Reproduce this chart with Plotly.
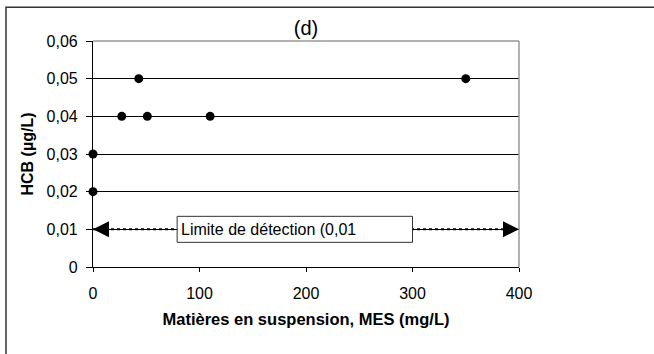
import plotly.graph_objects as go

# Data
mes = [0, 0, 27, 43, 51, 110, 350]
hcb = [0.02, 0.03, 0.04, 0.05, 0.04, 0.04, 0.05]

y_tickvals = [0, 0.01, 0.02, 0.03, 0.04, 0.05, 0.06]
y_ticktext = ["0", "0,01", "0,02", "0,03", "0,04", "0,05", "0,06"]
x_tickvals = [0, 100, 200, 300, 400]

detect_limit = 0.01
detect_x = [0, 400]
detect_label = "Limite de détection (0,01"
label_box_x = [79, 300]

FONT = "Arial, Liberation Sans, sans-serif"

fig = go.Figure()

# dotted detection-limit line
fig.add_trace(go.Scatter(
    x=detect_x, y=[detect_limit, detect_limit], mode="lines",
    line=dict(color="black", width=2, dash="dot"), hoverinfo="skip",
    showlegend=False, cliponaxis=False))

# data points
fig.add_trace(go.Scatter(
    x=mes, y=hcb, mode="markers",
    marker=dict(color="black", size=9), showlegend=False, cliponaxis=False))

# plot-area top & right borders (gray)
fig.add_shape(type="line", xref="paper", yref="paper", x0=0, x1=1, y0=1, y1=1,
              line=dict(color="#999999", width=1.5), layer="above")
fig.add_shape(type="line", xref="paper", yref="paper", x0=1, x1=1, y0=0, y1=1,
              line=dict(color="#999999", width=1.5), layer="above")

# outer frame (left + top visible)
fig.add_shape(type="rect", xref="paper", yref="paper",
              x0=(6 - 93) / 426.0, x1=(700 - 93) / 426.0,
              y0=(266.7 - 400) / 226.0, y1=(266.7 - 7) / 226.0,
              line=dict(color="#333333", width=1.5), fillcolor="rgba(0,0,0,0)", layer="above")

# label box
box_half = 0.00345
fig.add_shape(type="rect", xref="x", yref="y",
              x0=label_box_x[0], x1=label_box_x[1],
              y0=detect_limit - box_half, y1=detect_limit + box_half,
              line=dict(color="#333333", width=1), fillcolor="white", layer="above")
fig.add_annotation(x=label_box_x[0], y=detect_limit, xref="x", yref="y",
                   text=detect_label, showarrow=False, xanchor="left", yanchor="middle",
                   xshift=2, font=dict(family=FONT, size=16, color="black"))

# arrow heads
for xt, off in [(detect_x[0], 14), (detect_x[1], -14)]:
    fig.add_annotation(x=xt, y=detect_limit, xref="x", yref="y",
                       ax=off, ay=0, axref="pixel", ayref="pixel",
                       text="", showarrow=True, arrowhead=2, arrowsize=1.6,
                       arrowwidth=2, arrowcolor="black", standoff=0)

fig.update_layout(
    width=654, height=354,
    margin=dict(l=93, r=135, t=41, b=87),
    paper_bgcolor="white", plot_bgcolor="white",
    font=dict(family=FONT, size=16, color="black"),
    title=dict(text="(d)", x=0.5, xref="paper", y=1 - 28 / 354, yanchor="middle",
               xanchor="center", font=dict(family=FONT, size=20, color="black")),
    showlegend=False,
)

fig.update_xaxes(
    range=[0, 400], tickvals=x_tickvals, showgrid=False, zeroline=False,
    showline=True, linecolor="black", linewidth=1.2,
    ticks="outside", ticklen=4, tickcolor="black", ticklabelstandoff=8,
    tickfont=dict(size=16),
    title=dict(text="<b>Matières en suspension, MES (mg/L)</b>", standoff=12,
               font=dict(size=16.5)),
)
fig.update_yaxes(
    range=[0, 0.06], tickvals=y_tickvals, ticktext=y_ticktext,
    showgrid=True, gridcolor="black", gridwidth=1, zeroline=False,
    showline=True, linecolor="black", linewidth=1.2,
    ticks="outside", ticklen=6, tickcolor="black", ticklabelstandoff=5,
    tickfont=dict(size=16),
    title=dict(text="<b>HCB (µg/L)</b>", standoff=8, font=dict(size=16)),
)

fig.write_html("out.html", config={"displayModeBar": False},
               post_script="document.body.style.margin='0';")
